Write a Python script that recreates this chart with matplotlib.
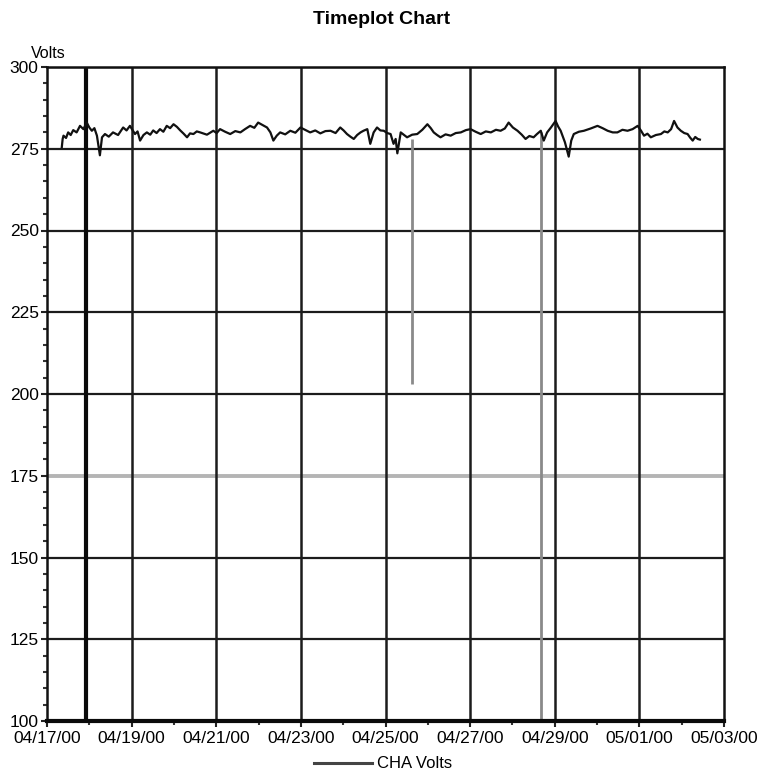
import numpy as np
import matplotlib
matplotlib.use("Agg")
import matplotlib.pyplot as plt
import matplotlib.dates as mdates
from matplotlib.lines import Line2D

plt.rcParams['font.family'] = ['Liberation Sans', 'DejaVu Sans']

# ---- data (time in days after 04/17/00 00:00, volts) ----
day_offsets = [
    0.35, 0.37, 0.39, 0.45, 0.50, 0.56, 0.62, 0.70, 0.78, 0.86,
    0.94, 1.00, 1.06, 1.12, 1.18, 1.25, 1.30, 1.37, 1.46, 1.56,
    1.68, 1.80, 1.88, 1.96, 2.08, 2.14, 2.20, 2.28, 2.36, 2.44,
    2.51, 2.59, 2.67, 2.75, 2.83, 2.91, 2.99, 3.07, 3.15, 3.23,
    3.31, 3.38, 3.46, 3.54, 3.62, 3.78, 3.93, 4.01, 4.09, 4.21,
    4.33, 4.45, 4.57, 4.68, 4.80, 4.90, 4.99, 5.10, 5.20, 5.28,
    5.35, 5.43, 5.51, 5.63, 5.75, 5.87, 5.99, 6.10, 6.22, 6.34,
    6.46, 6.58, 6.70, 6.82, 6.93, 7.01, 7.09, 7.17, 7.25, 7.33,
    7.41, 7.48, 7.57, 7.64, 7.72, 7.80, 7.88, 7.96, 8.04, 8.12,
    8.19, 8.24, 8.28, 8.36, 8.44, 8.51, 8.63, 8.75, 8.87, 8.99,
    9.07, 9.14, 9.22, 9.30, 9.42, 9.54, 9.66, 9.78, 9.90, 10.01,
    10.13, 10.25, 10.37, 10.49, 10.61, 10.72, 10.82, 10.91, 11.01, 11.12,
    11.22, 11.31, 11.40, 11.50, 11.58, 11.67, 11.74, 11.82, 11.91, 12.02,
    12.08, 12.14, 12.24, 12.33, 12.39, 12.45, 12.57, 12.69, 12.85, 13.01,
    13.13, 13.25, 13.37, 13.48, 13.60, 13.72, 13.84, 13.96, 14.04, 14.11,
    14.19, 14.27, 14.39, 14.51, 14.59, 14.67, 14.75, 14.82, 14.90, 14.98,
    15.06, 15.14, 15.20, 15.26, 15.32, 15.38, 15.43,
]
volts = [
    275.5, 278.0, 279.0, 278.3, 280.0, 279.2, 280.7, 280.0, 282.0, 281.0,
    283.0, 281.5, 280.5, 281.3, 279.0, 273.0, 278.5, 279.5, 278.7, 280.0,
    279.2, 281.5, 280.6, 282.0, 279.5, 280.3, 277.5, 279.2, 280.0, 279.3,
    280.6, 279.8, 281.0, 280.2, 282.0, 281.3, 282.5, 281.7, 280.6, 279.6,
    278.5, 279.7, 279.5, 280.3, 280.0, 279.3, 280.5, 279.8, 281.0, 280.2,
    279.5, 280.4, 280.0, 281.0, 282.0, 281.4, 283.0, 282.2, 281.5, 280.0,
    277.5, 279.0, 280.0, 279.4, 280.5, 279.9, 281.5, 280.8, 280.0, 280.6,
    279.7, 280.4, 280.5, 279.8, 281.5, 280.6, 279.5, 278.7, 278.0, 279.2,
    280.0, 280.5, 281.0, 276.5, 280.0, 281.5, 280.6, 280.5, 279.8, 279.5,
    276.5, 278.0, 273.6, 280.0, 279.2, 278.5, 279.3, 279.5, 280.8, 282.5,
    281.3, 280.0, 279.2, 278.5, 279.4, 279.0, 279.8, 280.0, 280.7, 281.0,
    280.2, 279.5, 280.3, 280.0, 280.8, 280.5, 281.2, 283.0, 281.5, 280.5,
    279.3, 278.0, 278.9, 278.5, 279.5, 280.5, 277.5, 280.0, 281.5, 283.5,
    281.8, 280.5, 277.0, 272.6, 277.5, 279.5, 280.2, 280.5, 281.2, 282.0,
    281.3, 280.5, 280.0, 280.0, 280.8, 280.5, 281.0, 282.0, 280.5, 279.0,
    279.6, 278.5, 279.2, 279.5, 280.3, 280.0, 281.0, 283.5, 281.5, 280.5,
    279.8, 279.5, 278.4, 277.5, 278.6, 278.0, 277.8,
]
assert len(day_offsets) == len(volts)

# dropout spikes (day offset, top volts, bottom volts)
drop_days = [8.615, 11.67]
drop_top = [278.0, 280.0]
drop_bottom = [203.0, 100.0]

marker_day = 0.923          # thick black vertical marker
y_ticks = [100, 125, 150, 175, 200, 225, 250, 275, 300]
series_label = "CHA Volts"
title = "Timeplot Chart"
y_label = "Volts"

start = np.datetime64('2000-04-17T00:00')
def to_dt(d):
    return start + np.array(np.round(np.asarray(d) * 86400), dtype='timedelta64[s]')

times = to_dt(day_offsets)

fig = plt.figure(figsize=(7.65, 7.75), dpi=100)
ax = fig.add_axes([47/765, 1 - 721/775, (724 - 47)/765, (721 - 67)/775])

# grid
grid_c = '#1c1c1c'
for yv in y_ticks[1:-1]:
    if yv == 175:
        ax.axhline(yv, color='#b4b4b4', lw=2.8, zorder=1)
    else:
        ax.axhline(yv, color=grid_c, lw=1.6, zorder=1)
ax.axhline(300, color=grid_c, lw=1.6, zorder=1)
xmin = to_dt(0.0)
xmax = to_dt(16.0)
for dd in range(2, 16, 2):
    ax.axvline(to_dt(dd), color=grid_c, lw=1.8, zorder=1)
ax.axvline(to_dt(marker_day), color='#0a0a0a', lw=3.0, zorder=2)

# dropouts
for d, t, b in zip(drop_days, drop_top, drop_bottom):
    ax.vlines(to_dt(d), b, t, color='#8a8a8a', lw=2.0, zorder=2)

ax.plot(times, volts, color='#111111', lw=1.6, zorder=3)

ax.set_xlim(xmin, xmax)
ax.set_ylim(100, 300)
ax.set_yticks(y_ticks)
ax.set_yticks(np.arange(100, 301, 5), minor=True)
ax.xaxis.set_major_locator(mdates.DayLocator(bymonthday=[17, 19, 21, 23, 25, 27, 29, 1, 3]))
ax.xaxis.set_minor_locator(mdates.DayLocator(bymonthday=[18, 20, 22, 24, 26, 28, 30, 2]))
ax.xaxis.set_major_formatter(mdates.DateFormatter('%m/%d/%y'))

for s in ['left', 'right', 'top']:
    ax.spines[s].set_linewidth(1.8)
    ax.spines[s].set_color('#111111')
ax.spines['bottom'].set_linewidth(3.0)
ax.spines['bottom'].set_color('#0a0a0a')

ax.tick_params(axis='both', which='major', labelsize=12.5, length=4, width=1.5,
               color='#222222', pad=2)
ax.tick_params(axis='both', which='minor', length=3, width=1.5, color='#333333')
ax.tick_params(axis='x', which='major', pad=3)

fig.text(382/765, 1 - 19/775, title, ha='center', va='center',
         fontsize=14, fontweight='bold')
fig.text(48/765, 1 - 54/775, y_label, ha='center', va='center', fontsize=11.5)

handle = Line2D([], [], color='#444444', lw=2.2)
fig.legend([handle], [series_label], loc='center', bbox_to_anchor=(383/765, 1 - 764/775),
           frameon=False, fontsize=12, handlelength=3.5, handletextpad=0.3,
           borderpad=0, borderaxespad=0)

fig.savefig('out.png', dpi=100)
